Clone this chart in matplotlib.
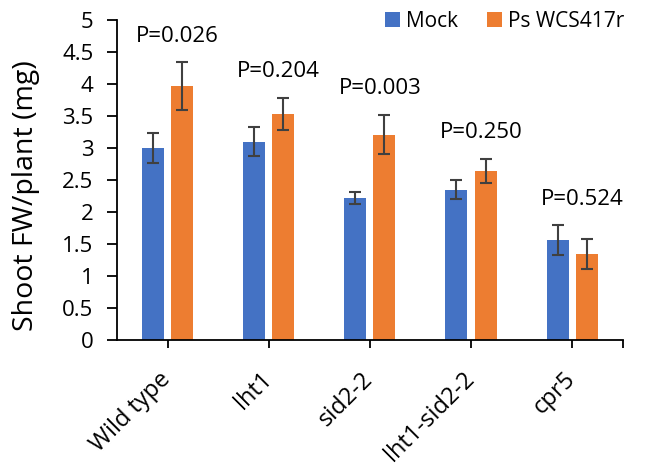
import numpy as np
import matplotlib
matplotlib.use('Agg')
import matplotlib.pyplot as plt

plt.rcParams['font.family'] = ['Open Sans', 'DejaVu Sans']

# --- data ---
genotypes = ['Wild type', 'lht1', 'sid2-2', 'lht1-sid2-2', 'cpr5']
mock = [3.00, 3.10, 2.22, 2.35, 1.56]
mock_err = [0.23, 0.23, 0.10, 0.15, 0.23]
ps = [3.97, 3.54, 3.21, 2.64, 1.34]
ps_err = [0.37, 0.25, 0.31, 0.19, 0.23]
pvals = ['P=0.026', 'P=0.204', 'P=0.003', 'P=0.250', 'P=0.524']

blue = '#4472C4'
orange = '#ED7D31'

fig = plt.figure(figsize=(6.46, 4.70), dpi=100)
ax = fig.add_axes([0.181, 0.277, 0.783, 0.680])

x = np.arange(len(genotypes))
w = 0.218
off = 0.144
ekw = dict(ecolor='#404040', elinewidth=1.5, capsize=4.5, capthick=1.5)
ax.bar(x - off, mock, w, color=blue, label='Mock', yerr=mock_err, error_kw=ekw)
ax.bar(x + off, ps, w, color=orange, label='Ps WCS417r', yerr=ps_err, error_kw=ekw)

for i, p in enumerate(pvals):
    top = max(mock[i] + mock_err[i], ps[i] + ps_err[i])
    ax.annotate(p, (x[i] + 0.1, top), xytext=(0, 19), textcoords='offset points',
                ha='center', va='center', fontsize=16)

ax.set_xlim(-0.5, 4.5)
ax.set_ylim(0, 5)
ax.set_yticks(np.arange(0, 5.01, 0.5))
ax.set_yticklabels(['0', '0.5', '1', '1.5', '2', '2.5', '3', '3.5', '4', '4.5', '5'])
ax.set_xticks(list(x) + [4.5])
ax.set_xticklabels(genotypes + [''], rotation=45, ha='right', va='center',
                   rotation_mode='anchor')
ax.tick_params(axis='x', length=6, width=1.3, labelsize=17, pad=20)
ax.tick_params(axis='y', length=7, width=1.3, labelsize=16, pad=10)
for s in ['top', 'right']:
    ax.spines[s].set_visible(False)
for s in ['left', 'bottom']:
    ax.spines[s].set_linewidth(1.3)

ax.set_ylabel('Shoot FW/plant (mg)', fontsize=20.5)
ax.yaxis.set_label_coords(-0.152, 0.45)

fig.legend(loc='upper right', bbox_to_anchor=(0.98, 0.995), ncol=2, frameon=False,
           fontsize=15, handlelength=0.72, handleheight=0.72, handletextpad=0.3,
           columnspacing=1.4, borderaxespad=0)

fig.savefig('out.png', dpi=100)
